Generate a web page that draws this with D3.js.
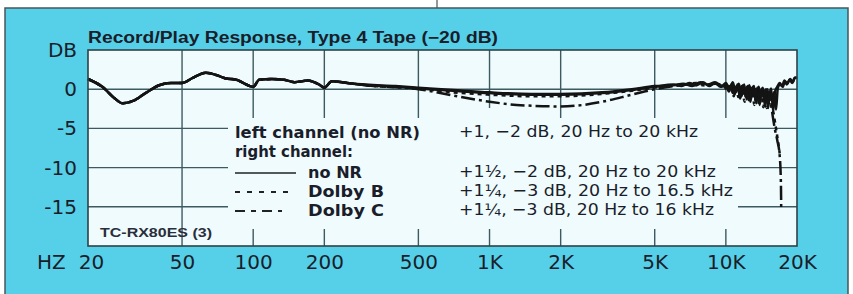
<!DOCTYPE html>
<html>
<head>
<meta charset="utf-8">
<script src="https://cdn.jsdelivr.net/npm/d3@7"></script>
<style>
    html, body { margin: 0; padding: 0; background: #fff; }
    svg { display: block; }
    .grid line { stroke: #3d5a60; stroke-width: 1.4; }
    .curve { fill: none; stroke: #141414; stroke-width: 2.5; stroke-linejoin: round; }
    .axis text { font-family: "DejaVu Sans", sans-serif; font-size: 20px; fill: #1a1d2a; }
</style>
</head>
<body>
<div id="chart"></div>
<script>
// small stand-in for d3-selection-multi
d3.selection.prototype.attrs = function (obj) {
    Object.keys(obj).forEach(k => this.attr(k, obj[k]));
    return this;
};

const title = "Record/Play Response, Type 4 Tape (\u221220 dB)";
const modelLabel = "TC-RX80ES (3)";

const xTicks = [20, 50, 100, 200, 500, 1000, 2000, 5000, 10000, 20000];
const xTickLabels = ["20", "50", "100", "200", "500", "1K", "2K", "5K", "10K", "20K"];
const yTicks = [5, 0, -5, -10, -15];
const yTickLabels = ["DB", "0", "-5", "-10", "-15"];

// shared low-frequency part, all four traces lie on top of each other here
const lowBand = [
    [20, 1.3], [23, 0.3], [26, -1.2], [28, -1.8], [31, -1.5], [35, -0.5], [40, 0.5], [45, 0.8],
    [50, 0.8], [56, 1.5], [63, 2.1], [70, 1.8], [76, 1.4], [85, 1.2], [95, 0.5], [100, 0.3],
    [106, 1.2], [120, 1.3], [135, 1.2], [150, 0.9], [170, 1.1], [190, 0.6], [200, 0.2],
    [215, 1.0], [250, 0.8]
];

const leftNoNR = [
    [300, 0.6], [400, 0.4], [500, 0.2], [700, -0.1], [1000, -0.4], [1500, -0.6], [2000, -0.6],
    [3000, -0.4], [4000, 0.0], [5000, 0.4], [6000, 0.5], [6600, 0.7], [7200, 0.4], [7800, 0.9],
    [8400, 0.6], [9000, 0.9], [9600, 0.4], [10000, 0.8], [10400, 0.0], [10700, 0.9], [11000, -0.4],
    [11350, 0.7], [11650, -0.9], [11950, 0.6], [12250, -1.3], [12550, 0.5], [12850, -0.5],
    [13150, 0.4], [13450, -1.8], [13750, 0.3], [14050, -0.8], [14350, 0.2], [14650, -2.2],
    [14950, 0.0], [15250, -1.0], [15550, 0.1], [15850, -2.8], [16150, -0.3], [16500, 0.3],
    [16900, 0.8], [17300, 0.4], [17700, 1.1], [18100, 0.6], [18600, 1.2], [19100, 0.8],
    [19500, 1.4], [20000, 1.5]
];

const rightNoNR = [
    [300, 0.5], [400, 0.3], [500, 0.1], [700, -0.2], [1000, -0.5], [1500, -0.7], [2000, -0.7],
    [3000, -0.5], [4000, -0.1], [5000, 0.3], [6000, 0.6], [6500, 0.4], [7000, 0.8], [7500, 0.5],
    [8000, 0.9], [8500, 0.4], [9000, 0.8], [9500, 0.3], [10000, 0.5], [10300, -0.3], [10600, 0.7],
    [10900, -0.6], [11200, 0.6], [11500, -1.2], [11800, 0.5], [12100, -0.8], [12400, 0.4],
    [12700, -1.6], [13000, 0.3], [13300, -1.0], [13600, 0.2], [13900, -2.0], [14200, 0.1],
    [14500, -1.2], [14800, 0.0], [15100, -2.4], [15400, -0.2], [15700, -1.3], [16000, -0.4],
    [16300, -2.6], [16600, 0.2], [17000, 0.6], [17400, 0.3], [17800, 1.0], [18200, 0.7],
    [18700, 1.3], [19200, 0.9], [19600, 1.5], [20000, 1.4]
];

const dolbyB = [
    [300, 0.5], [500, 0.1], [700, -0.4], [1000, -0.7], [1500, -0.9], [2000, -0.9], [3000, -0.6],
    [4000, -0.2], [5000, 0.2], [6000, 0.5], [6800, 0.6], [7500, 0.8], [8200, 0.5], [9000, 0.7],
    [9800, 0.4], [10200, -0.2], [10500, 0.6], [10800, -0.9], [11100, 0.5], [11400, -0.4],
    [11700, 0.4], [12000, -1.6], [12300, 0.3], [12600, -0.7], [12900, 0.2], [13200, -2.0],
    [13500, 0.1], [13800, -1.1], [14100, 0.0], [14400, -2.3], [14700, -0.2], [15000, -1.4],
    [15300, -0.3], [15600, -2.0], [15900, -3.0], [16200, -4.5], [16500, -6.0], [16900, -8.2]
];

const dolbyC = [
    [300, 0.5], [500, 0.0], [700, -0.8], [1000, -1.6], [1300, -2.0], [2000, -2.2], [2500, -2.0],
    [3000, -1.6], [4000, -0.7], [5000, 0.0], [6000, 0.4], [7000, 0.6], [8000, 0.5], [9000, 0.7],
    [10000, 0.3], [10400, 0.7], [10700, -0.5], [11000, 0.4], [11300, -1.0], [11600, 0.3],
    [11900, -0.3], [12200, 0.2], [12500, -1.4], [12800, 0.1], [13100, -0.6], [13400, 0.0],
    [13700, -1.9], [14000, -0.1], [14300, -1.0], [14600, -0.2], [14900, -2.4], [15200, -0.8],
    [15500, -1.8], [15800, -3.5], [16100, -5.0], [16500, -6.5], [16900, -8.5], [17100, -12],
    [17150, -15.5]
];

const legendLabels = ["left channel (no NR)", "right channel:", "no NR", "Dolby B", "Dolby C"];
const legendSpecs = [
    "+1, \u22122 dB, 20 Hz to 20 kHz",
    "+1\u00bd, \u22122 dB, 20 Hz to 20 kHz",
    "+1\u00bc, \u22123 dB, 20 Hz to 16.5 kHz",
    "+1\u00bc, \u22123 dB, 20 Hz to 16 kHz"
];

function drawChart() {
    const width = 853, height = 294;
    const margin = {top: 50, right: 56, bottom: 48, left: 88};
    const plotW = width - margin.left - margin.right,
        plotH = height - margin.top - margin.bottom;

    const cyan = "#55d0e8", paper = "#effbfd", ink = "#1a1d2a";

    const x = d3.scaleLog().domain([20, 20000]).range([0, plotW]);
    const y = d3.scaleLinear().domain([-20, 5]).range([plotH, 0]);

    const svg = d3.select("#chart").append("svg")
        .attr("width", width)
        .attr("height", height);

    svg.append("rect").attrs({x: 0, y: 0, width: width, height: height, fill: "#fff"});
    svg.append("rect")
        .attrs({x: 5, y: 8, width: 843, height: 300, fill: cyan, stroke: "#4a5558", "stroke-width": 1.5});
    svg.append("line")
        .attrs({x1: 437, y1: 0, x2: 437, y2: 8, stroke: "#4a5558", "stroke-width": 1.2});

    const diagram = svg.append("g")
        .attr("transform", `translate(${margin.left},${margin.top})`);

    diagram.append("rect")
        .attrs({x: 0, y: 0, width: plotW, height: plotH, fill: paper});

    // grid: lines are broken where the legend block sits
    const grid = diagram.append("g").attr("class", "grid");
    const upperEnd = 68, lowerStart = 176;
    xTicks.slice(1, -1).forEach(f => {
        const gx = x(f);
        if (f === 50) {
            grid.append("line").attrs({x1: gx, y1: 0, x2: gx, y2: plotH});
        } else {
            grid.append("line").attrs({x1: gx, y1: 0, x2: gx, y2: f === 1000 ? upperEnd - 10 : upperEnd});
            grid.append("line").attrs({x1: gx, y1: lowerStart + 3, x2: gx, y2: plotH});
        }
    });
    grid.append("line").attrs({x1: 0, y1: y(0), x2: plotW, y2: y(0)});
    [-5, -10, -15].forEach(db => {
        grid.append("line").attrs({x1: 0, y1: y(db), x2: 140, y2: y(db)});
        grid.append("line").attrs({x1: 650, y1: y(db), x2: plotW, y2: y(db)});
    });

    const line = d3.line()
        .x(d => x(d[0]))
        .y(d => y(d[1]))
        .curve(d3.curveMonotoneX);

    const series = [
        {data: lowBand.concat(leftNoNR), dash: null},
        {data: lowBand.concat(rightNoNR), dash: null},
        {data: lowBand.concat(dolbyB), dash: "4,4"},
        {data: lowBand.concat(dolbyC), dash: "14,4,3,4"},
    ];
    series.forEach(s => {
        diagram.append("path")
            .attr("class", "curve")
            .attr("d", line(s.data))
            .attr("stroke-dasharray", s.dash);
    });

    diagram.append("rect")
        .attrs({x: 0, y: 0, width: plotW, height: plotH, fill: "none", stroke: "#2f4145", "stroke-width": 1.6});

    const yAxis = d3.axisLeft(y)
        .tickValues(yTicks)
        .tickFormat((d, i) => yTickLabels[i])
        .tickSize(0)
        .tickPadding(11);
    diagram.append("g").attr("class", "axis").call(yAxis)
        .call(g => g.select(".domain").remove());

    const xAxis = d3.axisBottom(x)
        .tickValues(xTicks)
        .tickFormat((d, i) => xTickLabels[i])
        .tickSize(0)
        .tickPadding(9);
    diagram.append("g").attr("class", "axis")
        .attr("transform", `translate(0,${plotH})`)
        .call(xAxis)
        .call(g => g.select(".domain").remove())
        .call(g => g.select(".tick text").attr("dx", 3));

    svg.append("text")
        .attrs({x: 37, y: 269, "font-family": "DejaVu Sans, sans-serif", "font-size": 20, fill: ink})
        .text("HZ");

    svg.append("text")
        .attrs({x: margin.left, y: 43, "font-family": "Liberation Sans, Arial, sans-serif",
            "font-size": 16, "font-weight": "bold", fill: ink,
            textLength: 410, lengthAdjust: "spacingAndGlyphs"})
        .text(title);

    svg.append("text")
        .attrs({x: 100, y: 237, "font-family": "Liberation Sans, Arial, sans-serif",
            "font-size": 13.5, "font-weight": "bold", fill: "#2a2e3a",
            textLength: 112, lengthAdjust: "spacingAndGlyphs"})
        .text(modelLabel);

    // legend block
    const legend = svg.append("g");
    const rowY = [138, 157, 178, 197, 216];
    const labelX = [235, 235, 308, 308, 308];
    const labelW = [185, 118, 54, 76, 76];
    legendLabels.forEach((t, i) => {
        legend.append("text")
            .attrs({x: labelX[i], y: rowY[i], "font-family": "DejaVu Sans, sans-serif",
                "font-size": 15, "font-weight": "bold", fill: ink,
                textLength: labelW[i], lengthAdjust: "spacingAndGlyphs"})
            .text(t);
    });

    const specRow = [0, 2, 3, 4];
    const specW = [239, 257, 274, 255];
    legendSpecs.forEach((t, i) => {
        legend.append("text")
            .attrs({x: 459, y: rowY[specRow[i]] - 1, "font-family": "DejaVu Sans, sans-serif",
                "font-size": 16.5, fill: ink,
                textLength: specW[i], lengthAdjust: "spacingAndGlyphs"})
            .text(t);
    });

    series.slice(1).forEach((s, i) => {
        const ly = rowY[i + 2] - 5;
        legend.append("line")
            .attrs({x1: 235, y1: ly, x2: i === 0 ? 296 : (i === 1 ? 291 : 282), y2: ly,
                stroke: "#222", "stroke-width": i === 0 ? 1.6 : 2.2})
            .attr("stroke-dasharray", i === 0 ? null : (i === 1 ? "5,7" : "10,6,5,6"));
    });
}

drawChart();
</script>
</body>
</html>
